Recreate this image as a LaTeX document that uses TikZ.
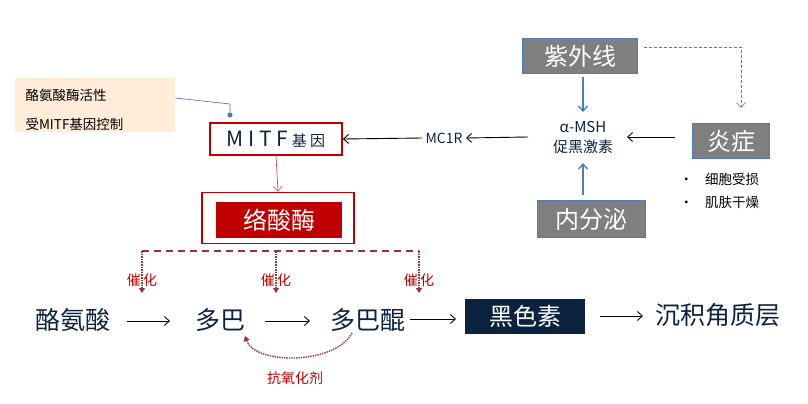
\documentclass[tikz,border=0pt]{standalone}
\usepackage{fontspec}
\setmainfont{Noto Sans CJK SC}
\usetikzlibrary{arrows.meta}
\definecolor{darkred}{HTML}{C00000}
\definecolor{brownred}{HTML}{953735}
\definecolor{navy}{HTML}{0C2340}
\definecolor{graybox}{HTML}{7F7F7F}
\definecolor{blueline}{HTML}{4A7EBB}
\begin{document}
\begin{tikzpicture}[x=1pt,y=-1pt,
  gbox/.style={draw=blueline,line width=1pt,fill=graybox,text=white,font=\fontsize{24}{26}\selectfont,inner sep=0pt},
  main/.style={font=\fontsize{25}{27}\selectfont,text=navy,inner sep=1pt},
  arr/.style={-{Straight Barb[length=5pt,width=9pt]},line width=0.9pt},
  cat/.style={text=darkred,font=\fontsize{14}{15}\selectfont},
  barr/.style={-{Straight Barb[length=5pt,width=9pt]},blueline,line width=1.3pt}]
\useasboundingbox (0,0) rectangle (808,404);
% note
\node[fill=orange!15!white,minimum width=160pt,minimum height=54pt,inner sep=0pt,anchor=north west] (note) at (15,78) {};
\node[anchor=west,font=\fontsize{13.5}{14}\selectfont] (n1) at (22,95) {酪氨酸酶活性};
\node[anchor=west,font=\fontsize{13.5}{14}\selectfont] (n2) at (22,124) {受MITF基因控制};
% MITF
\node[draw=darkred,line width=1.8pt,minimum width=132pt,minimum height=32pt,inner sep=0pt,text=navy] (mitf) at (276,139) {\fontsize{21}{22}\selectfont M I T F\,\fontsize{15}{16}\selectfont 基 因};
\coordinate (dot) at (230,115);
\draw[blueline,line width=0.7pt] (note.east |- 0,98) -- (230,104) -- (dot);
\fill[blueline] (dot) circle (2.5pt);
% enzyme
\node[draw=darkred,line width=1.8pt,minimum width=152pt,minimum height=51pt,inner sep=0pt] (enzo) at (278,218) {};
\node[fill=darkred,minimum width=126pt,minimum height=36pt,inner sep=0pt,text=white,font=\fontsize{24}{25}\selectfont] (enz) at (279,220) {络酸酶};
\draw[darkred!80,-{Straight Barb[length=5pt,width=9pt]},line width=0.6pt] (mitf.south) -- (enzo.north);
% catalysis
\coordinate (c1) at (142,251); \coordinate (c2) at (276,251); \coordinate (c3) at (419,251);
\draw[brownred,line width=1.8pt,dash pattern=on 7pt off 5pt] (c1) -- (c3);
\foreach \c/\x in {c1/142,c2/276,c3/419}{
  \coordinate (\c e) at (\x,293);
  \draw[brownred,line width=1.6pt,densely dotted,-{Triangle[length=5pt,width=6pt]}] (\c) -- (\c e);
  \node[cat] at (\x,280) {催\,化};}
% bottom row
\node[main] (a) at (73,320) {酪氨酸};
\node[main] (b) at (220,320) {多巴};
\node[main] (c) at (368,320) {多巴醌};
\node[fill=navy,text=white,minimum width=120pt,minimum height=35pt,inner sep=0pt,font=\fontsize{24}{26}\selectfont] (d) at (525,316) {黑色素};
\node[main] (e) at (718,315) {沉积角质层};
\coordinate (a1) at (127,321); \coordinate (a2) at (170,321);
\coordinate (b1) at (265,321); \coordinate (b2) at (310,321);
\coordinate (c1x) at (410,319); \coordinate (c2x) at (456,319);
\coordinate (d1) at (600,316); \coordinate (d2) at (643,316);
\draw[arr] (a1) -- (a2);
\draw[arr] (b1) -- (b2);
\draw[arr] (c1x) -- (c2x);
\draw[arr] (d1) -- (d2);
\draw[brownred,line width=1.4pt,densely dotted,-{Triangle[length=5pt,width=6pt]}] (352,333) .. controls (335,365) and (255,365) .. (245,336);
\node[cat] (ao) at (295,378) {抗氧化剂};
% right part
\node[gbox,minimum width=115pt,minimum height=35pt] (uv) at (580,56) {紫外线};
\node[gbox,minimum width=77pt,minimum height=35pt] (inf) at (731,141) {炎症};
\node[gbox,minimum width=108pt,minimum height=37pt] (endo) at (591,219) {内分泌};
\node[font=\fontsize{15}{20}\selectfont,text=navy,align=center,inner sep=1pt] (msh) at (583,138) {α-MSH\\促黑激素};
\node[font=\fontsize{14}{15}\selectfont,text=navy] (mc) at (444,138) {MC1R};
\draw[barr] (583,77) -- (583,112);
\draw[barr] (583,195) -- (583,163);
\draw[arr] (675,137) -- (627,137);
\draw[arr] (528,137) -- (mc.east);
\draw[arr] (mc.west) -- (mitf.east);
\coordinate (r1) at (741,47);
\draw[darkred!70,line width=0.6pt,densely dashed,-{Straight Barb[length=5pt,width=9pt]}] (uv.east |- r1) ++(6,0) -- (r1) -- (741,108);
\node[font=\fontsize{13.5}{14}\selectfont,anchor=west] (s1) at (676,179) {•\hspace{12pt}细胞受损};
\node[font=\fontsize{13.5}{14}\selectfont,anchor=west] (s2) at (676,202) {•\hspace{12pt}肌肤干燥};
\end{tikzpicture}
\end{document}
